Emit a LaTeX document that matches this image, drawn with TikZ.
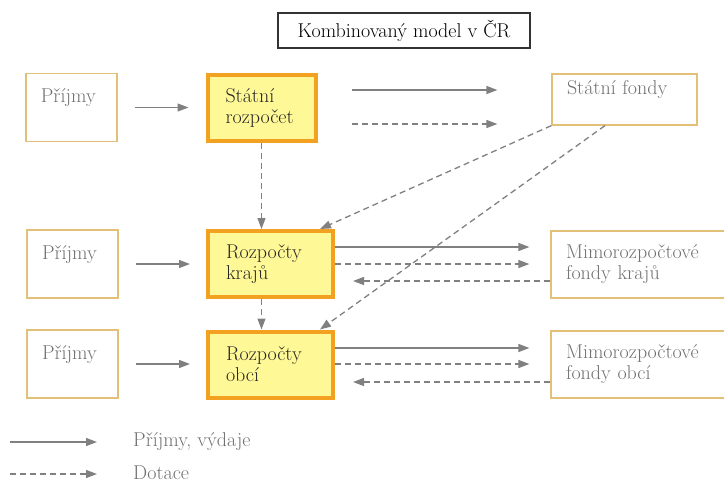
\documentclass[tikz,border=0pt]{standalone}
\usepackage{fontspec}
\usepackage{tikz}
\usetikzlibrary{calc}
\usetikzlibrary{positioning}
\usetikzlibrary{arrows.meta}

\definecolor{boxgold}{RGB}{226,192,120}
\definecolor{mainorange}{RGB}{242,162,32}
\definecolor{mainyellow}{RGB}{255,248,150}
\definecolor{arrgray}{RGB}{128,128,128}
\definecolor{txtgray}{RGB}{112,112,112}

\begin{document}
\begin{tikzpicture}[x=1pt, y=1pt,
    every node/.style={font=\fontsize{20}{21}\selectfont},
    plainbox/.style={draw=boxgold, line width=1.2pt, text=txtgray, align=left, inner xsep=15pt},
    mainbox/.style={draw=mainorange, line width=4pt, fill=mainyellow, text=black!85, align=left, inner xsep=18pt, minimum height=66pt},
    flow/.style={draw=arrgray, line width=1.3pt, -{Triangle[length=11pt, width=8pt]}},
    grant/.style={flow, dash pattern=on 6pt off 4pt}]
    \useasboundingbox (0,0) rectangle (724,-483);

    %Nodes
    \node[draw=black!80, line width=1.3pt, minimum width=252pt, minimum height=35pt, inner sep=0pt] (title) at (404,-30.5) {Kombinovaný model v ČR};

    % Budgets
    \node[mainbox, text width=72pt] (sr) at (261.5,-107.5) {Státní\\rozpočet};
    \node[mainbox, text width=89pt] (rk) at (270.5,-264) {Rozpočty\\krajů};
    \node[mainbox, text width=89pt] (ro) at (270.5,-364.5) {Rozpočty\\obcí};

    % Incomes
    \node[plainbox, text width=61pt, minimum height=68pt] (inc1) [left=88pt of sr] {Příjmy\\[-4pt] \strut};
    \node[plainbox, text width=61pt, minimum height=68pt] (inc2) at (72.5,-264) {Příjmy\\[-4pt] \strut};
    \node[plainbox, text width=61pt, minimum height=68pt] (inc3) at (72.5,-364) {Příjmy\\[-4pt] \strut};

    % Funds
    \node[plainbox, text width=115pt, minimum height=51pt] (sf) at (624.5,-99.5) {Státní fondy\\[-4pt] \strut};
    \node[plainbox, text width=159pt, minimum height=67pt] (mk) at (645.5,-264.5) {Mimorozpočtové\\fondy krajů};
    \node[plainbox, text width=159pt, minimum height=67pt] (mo) at (645.5,-364.5) {Mimorozpočtové\\fondy obcí};

    % Incomes into budgets
    \draw[flow, shorten <=17pt, shorten >=17pt] (inc1) -- (inc1 -| sr.west);
    \draw[flow, shorten <=17pt, shorten >=16pt] (inc2) -- (inc2 -| rk.west);
    \draw[flow, shorten <=17pt, shorten >=16pt] (inc3) -- (inc3 -| ro.west);

    % State budget and state funds
    \draw[flow, shorten <=34pt, shorten >=54pt] ([yshift=17.5pt]sr.east) -- ([yshift=17.5pt]sr.east -| sf.west);
    \draw[grant, shorten <=34pt, shorten >=54pt] ([yshift=-16.5pt]sr.east) -- ([yshift=-16.5pt]sr.east -| sf.west);

    % Grants downwards
    \draw[grant] (sr.south) -- (sr.south |- rk.north);
    \draw[grant] (sr.south |- rk.south) -- (sr.south |- ro.north);
    \draw[grant] (sf.south west) -- ([xshift=-15pt]rk.north east);
    \draw[grant] ([xshift=-19.5pt]sf.south) -- ([xshift=-15pt]ro.north east);

    % Regions and extra-budget funds
    \draw[flow, shorten >=21pt] ([yshift=17pt]rk.east) -- ([yshift=17pt]rk.east -| mk.west);
    \draw[grant, shorten >=21pt] (rk.east) -- (rk.east -| mk.west);
    \draw[grant, shorten >=18pt] ([yshift=-17pt]rk.east -| mk.west) -- ([yshift=-17pt]rk.east);

    % Municipalities and extra-budget funds
    \draw[flow, shorten >=21pt] ([yshift=16.5pt]ro.east) -- ([yshift=16.5pt]ro.east -| mo.west);
    \draw[grant, shorten >=21pt] ([yshift=0.5pt]ro.east) -- ([yshift=0.5pt]ro.east -| mo.west);
    \draw[grant, shorten >=18pt] ([yshift=-17.5pt]ro.east -| mo.west) -- ([yshift=-17.5pt]ro.east);

    % Legend
    \coordinate (lgs1) at (10,-442);
    \coordinate (lge1) at (97,-442);
    \coordinate (lgs2) at (10,-474);
    \coordinate (lge2) at (97,-474);
    \draw[flow] (lgs1) -- (lge1);
    \draw[grant] (lgs2) -- (lge2);
    \node[text=txtgray, anchor=west, inner sep=0pt] (lgt1) [right=36pt of lge1] {Příjmy, výdaje};
    \node[text=txtgray, anchor=west, inner sep=0pt] (lgt2) [right=36pt of lge2, yshift=1pt] {Dotace};

\end{tikzpicture}
\end{document}
